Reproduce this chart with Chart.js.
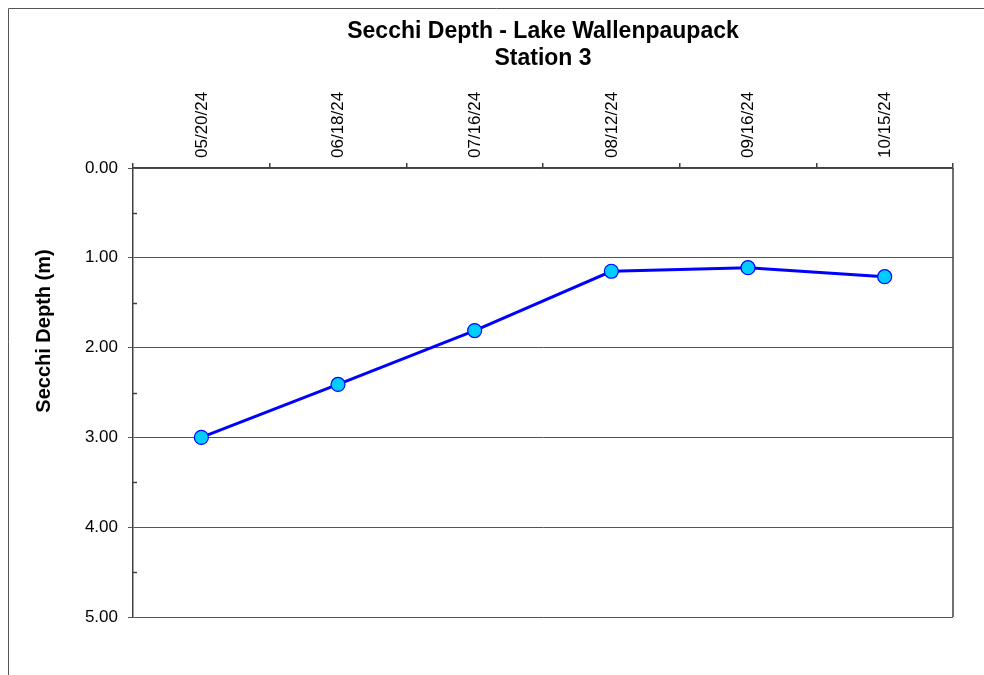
<!DOCTYPE html>
<html>
<head>
<meta charset="utf-8">
<script src="https://cdn.jsdelivr.net/npm/chart.js@4"></script>
<style>
  html, body { margin: 0; padding: 0; background: #fff; }
  #wrap { width: 984px; height: 675px; }
</style>
</head>
<body>
<div id="wrap"><canvas id="chart" width="984" height="675"></canvas></div>
<script>
// chart data
const sampleDates = ['05/20/24', '06/18/24', '07/16/24', '08/12/24', '09/16/24', '10/15/24'];
const secchiDepths = [3.00, 2.41, 1.81, 1.15, 1.11, 1.21];
const depthTicks = [0, 1, 2, 3, 4, 5];
const minorTicks = [0.5, 1.5, 2.5, 3.5, 4.5];

const FONT = '"Liberation Sans", Arial, sans-serif';
const AXIS_COLOR = '#404040';

// outer frame, plot border, minor ticks and y axis title
const extras = {
    id: 'extras',
    beforeDraw(chart) {
        const ctx = chart.ctx;
        ctx.save();
        ctx.strokeStyle = '#555';
        ctx.lineWidth = 1;
        ctx.beginPath();
        ctx.moveTo(8.5, 675);
        ctx.lineTo(8.5, 8.5);
        ctx.lineTo(984, 8.5);
        ctx.stroke();
        ctx.restore();
    },
    afterDraw(chart) {
        const ctx = chart.ctx;
        const a = chart.chartArea;
        const y = chart.scales.y;
        ctx.save();
        ctx.strokeStyle = AXIS_COLOR;
        ctx.lineWidth = 1.5;
        ctx.beginPath();
        ctx.moveTo(a.right, a.top);
        ctx.lineTo(a.right, a.bottom);
        ctx.stroke();
        ctx.lineWidth = 1.5;
        minorTicks.forEach(v => {
            const py = Math.round(y.getPixelForValue(v)) + 0.5;
            ctx.beginPath();
            ctx.moveTo(a.left, py);
            ctx.lineTo(a.left + 4, py);
            ctx.stroke();
        });
        // y axis title
        ctx.fillStyle = '#000';
        ctx.font = 'bold 20px ' + FONT;
        ctx.textAlign = 'center';
        ctx.textBaseline = 'middle';
        ctx.translate(44, 331);
        ctx.rotate(-Math.PI / 2);
        ctx.fillText('Secchi Depth (m)', 0, 0);
        ctx.restore();
    }
};

const ctx = document.getElementById('chart').getContext('2d');
new Chart(ctx, {
    type: 'line',
    data: {
        labels: sampleDates,
        datasets: [{
            data: secchiDepths,
            borderColor: '#0000FF',
            borderWidth: 3,
            pointBackgroundColor: '#00CCFF',
            pointBorderColor: '#0000FF',
            pointBorderWidth: 1.2,
            pointRadius: 7,
            tension: 0,
            clip: false
        }]
    },
    options: {
        responsive: false,
        animation: false,
        layout: { padding: { left: 30, right: 31, top: 18, bottom: 58 } },
        plugins: {
            legend: { display: false },
            tooltip: { enabled: false },
            title: {
                display: true,
                fullSize: false,
                text: ['Secchi Depth - Lake Wallenpaupack', 'Station 3'],
                color: '#000',
                font: { family: FONT, size: 23, weight: 'bold', lineHeight: '27px' },
                padding: 0
            }
        },
        scales: {
            x: {
                position: 'top',
                offset: true,
                afterFit: s => { s.height = 96; },
                grid: {
                    offset: true,
                    drawOnChartArea: false,
                    drawTicks: true,
                    tickLength: 5,
                    color: AXIS_COLOR,
                    lineWidth: 1.5
                },
                border: { color: AXIS_COLOR, width: 1.5 },
                ticks: {
                    minRotation: 90,
                    maxRotation: 90,
                    padding: 5,
                    labelOffset: 21,
                    color: '#000',
                    font: { family: FONT, size: 17 }
                }
            },
            y: {
                reverse: true,
                min: depthTicks[0],
                max: depthTicks[depthTicks.length - 1],
                afterFit: s => { s.width = 103; },
                afterBuildTicks: s => { s.ticks = depthTicks.map(v => ({ value: v })); },
                grid: {
                    color: '#555',
                    lineWidth: 1,
                    tickLength: 5
                },
                border: { color: AXIS_COLOR, width: 1.5 },
                ticks: {
                    padding: 10,
                    color: '#000',
                    font: { family: FONT, size: 17 },
                    callback: v => Number(v).toFixed(2)
                }
            }
        }
    },
    plugins: [extras]
});
</script>
</body>
</html>
